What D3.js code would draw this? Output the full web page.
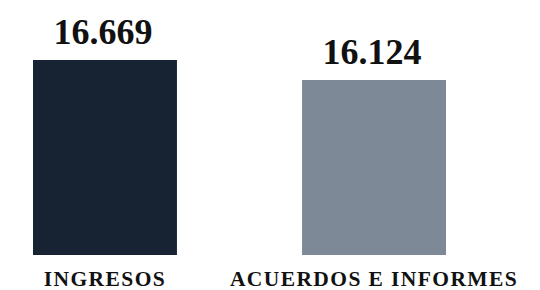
<!DOCTYPE html>
<html>
<head>
<meta charset="utf-8">
<script src="https://cdn.jsdelivr.net/npm/d3@7"></script>
<style>
  body { margin: 0; background: #fff; }
  text { font-family: "Liberation Serif", "DejaVu Serif", serif; font-weight: bold; fill: #111; }
</style>
</head>
<body>
<svg id="chart"></svg>
<script>
const width = 540;
const height = 290;

// data
const categories = ["INGRESOS", "ACUERDOS E INFORMES"];
const values = [16669, 16124];
const valueLabels = ["16.669", "16.124"];
const colors = ["#172233", "#7d8996"];

const svg = d3.select("#chart")
    .attr("width", width)
    .attr("height", height);

// x: two bands
const x = d3.scaleBand()
    .domain(categories)
    .range([33, 446])
    .paddingInner(0.465);

// y axis is not zero-based in the original
const y = d3.scaleLinear()
    .domain([11350, d3.max(values)])
    .range([255, 60]);

svg.selectAll(".bar")
    .data(categories)
    .enter().append("rect")
    .attr("class", "bar")
    .attr("x", d => x(d))
    .attr("y", (d, i) => y(values[i]))
    .attr("width", x.bandwidth())
    .attr("height", (d, i) => y.range()[0] - y(values[i]))
    .style("fill", (d, i) => colors[i]);

// value labels above bars
svg.selectAll(".value")
    .data(categories)
    .enter().append("text")
    .attr("class", "value")
    .attr("x", d => x(d) + x.bandwidth() / 2 - 2)
    .attr("y", (d, i) => y(values[i]) - 16)
    .attr("text-anchor", "middle")
    .style("font-size", "36px")
    .text((d, i) => valueLabels[i]);

// category labels under bars
svg.selectAll(".cat")
    .data(categories)
    .enter().append("text")
    .attr("class", "cat")
    .attr("x", d => x(d) + x.bandwidth() / 2)
    .attr("y", 286)
    .attr("text-anchor", "middle")
    .style("font-size", "21.5px")
    .style("letter-spacing", "1.4px")
    .text(d => d);
</script>
</body>
</html>
